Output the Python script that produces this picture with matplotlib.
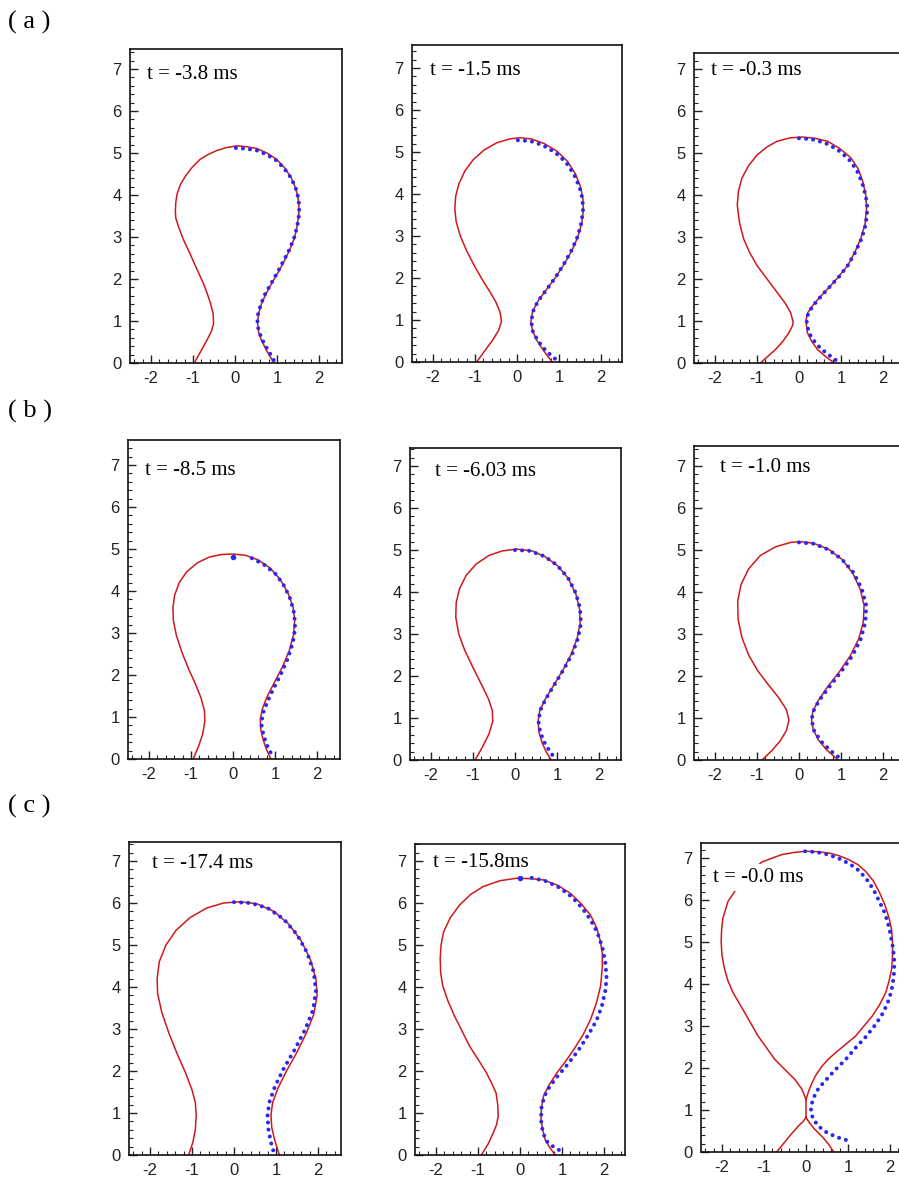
import numpy as np
import matplotlib.pyplot as plt
from matplotlib.ticker import MultipleLocator

plt.rcParams['axes.unicode_minus'] = False

W, H = 899, 1177
S = 42.0  # pixels per data unit

# ---- row (a) ----
a1_red_x = [-0.97, -0.82, -0.67, -0.56, -0.51, -0.52, -0.58, -0.66, -0.75, -0.91, -1.07, -1.22, -1.34, -1.41, -1.42,
            -1.41, -1.38, -1.30, -1.18, -1.02, -0.83, -0.63, -0.43, -0.20, 0.04, 0.28, 0.51, 0.76, 0.99, 1.18, 1.34,
            1.44, 1.50, 1.52, 1.52, 1.48, 1.42, 1.31, 1.18, 1.03, 0.87, 0.74, 0.63, 0.56, 0.54, 0.56, 0.63, 0.76, 0.91]
a1_red_y = [0.00, 0.27, 0.54, 0.76, 0.94, 1.17, 1.41, 1.65, 1.89, 2.24, 2.60, 2.92, 3.23, 3.45, 3.62,
            3.82, 4.02, 4.25, 4.45, 4.66, 4.85, 4.97, 5.06, 5.13, 5.17, 5.15, 5.11, 5.00, 4.85, 4.65, 4.41,
            4.17, 3.94, 3.75, 3.55, 3.27, 2.99, 2.71, 2.44, 2.16, 1.89, 1.65, 1.41, 1.17, 0.94, 0.74, 0.54, 0.28, 0.03]
a1_blue_x = [0.02, 0.28, 0.52, 0.76, 0.99, 1.18, 1.34, 1.45, 1.51, 1.53, 1.52, 1.48, 1.41, 1.30, 1.16, 1.01,
             0.86, 0.72, 0.62, 0.55, 0.53, 0.57, 0.65, 0.76, 0.86, 0.96]
a1_blue_y = [5.12, 5.10, 5.06, 4.96, 4.82, 4.62, 4.40, 4.15, 3.92, 3.70, 3.50, 3.25, 2.99, 2.71, 2.44, 2.16,
             1.89, 1.65, 1.41, 1.17, 0.94, 0.75, 0.55, 0.35, 0.18, 0.00]

a2_red_x = [-0.96, -0.78, -0.58, -0.44, -0.37, -0.40, -0.50, -0.65, -0.82, -1.02, -1.20, -1.35, -1.45, -1.48, -1.46,
            -1.38, -1.24, -1.04, -0.78, -0.48, -0.18, 0.07, 0.35, 0.65, 0.95, 1.20, 1.39, 1.51, 1.57, 1.58, 1.54,
            1.45, 1.31, 1.13, 0.92, 0.70, 0.50, 0.37, 0.33, 0.37, 0.47, 0.64, 0.84]
a2_red_y = [0.00, 0.25, 0.52, 0.75, 0.96, 1.18, 1.42, 1.68, 1.95, 2.30, 2.65, 3.00, 3.35, 3.65, 3.95,
            4.25, 4.55, 4.82, 5.05, 5.22, 5.31, 5.34, 5.31, 5.20, 5.02, 4.78, 4.48, 4.18, 3.88, 3.60, 3.30,
            2.98, 2.66, 2.34, 2.02, 1.72, 1.45, 1.20, 0.96, 0.74, 0.52, 0.26, 0.00]
a2_blue_x = [0.02, 0.32, 0.62, 0.92, 1.17, 1.36, 1.49, 1.56, 1.57, 1.53, 1.44, 1.30, 1.12, 0.92, 0.70, 0.50,
             0.38, 0.34, 0.38, 0.50, 0.66, 0.83, 1.00]
a2_blue_y = [5.28, 5.26, 5.16, 4.98, 4.75, 4.46, 4.16, 3.88, 3.60, 3.30, 2.98, 2.66, 2.34, 2.02, 1.72, 1.45,
             1.20, 0.96, 0.72, 0.50, 0.30, 0.14, 0.00]

a3_red_x = [-0.92, -0.74, -0.56, -0.38, -0.24, -0.15, -0.14, -0.20, -0.34, -0.52, -0.76, -1.00, -1.18, -1.32, -1.42,
            -1.47, -1.44, -1.36, -1.20, -1.00, -0.77, -0.52, -0.22, 0.08, 0.38, 0.68, 0.98, 1.24, 1.41, 1.52, 1.59,
            1.61, 1.57, 1.47, 1.33, 1.16, 0.93, 0.68, 0.48, 0.32, 0.21, 0.17, 0.18, 0.20, 0.30, 0.44, 0.64, 0.84]
a3_red_y = [0.00, 0.16, 0.32, 0.52, 0.72, 0.90, 0.98, 1.20, 1.44, 1.68, 2.00, 2.32, 2.64, 2.96, 3.36,
            3.76, 4.10, 4.40, 4.70, 4.95, 5.14, 5.28, 5.36, 5.38, 5.35, 5.28, 5.10, 4.88, 4.62, 4.32, 4.00,
            3.68, 3.30, 2.96, 2.64, 2.32, 2.04, 1.76, 1.55, 1.36, 1.20, 1.04, 0.86, 0.72, 0.52, 0.32, 0.15, 0.00]
a3_blue_x = [0.00, 0.30, 0.62, 0.92, 1.18, 1.37, 1.50, 1.59, 1.63, 1.59, 1.49, 1.34, 1.16, 0.94, 0.70, 0.50,
             0.33, 0.22, 0.18, 0.20, 0.28, 0.42, 0.60, 0.78, 0.97]
a3_blue_y = [5.35, 5.33, 5.24, 5.08, 4.86, 4.60, 4.30, 3.98, 3.68, 3.30, 2.96, 2.64, 2.32, 2.04, 1.78, 1.56,
             1.36, 1.18, 1.02, 0.86, 0.64, 0.44, 0.28, 0.14, 0.00]

# ---- row (b) ----
b1_red_x = [-0.95, -0.82, -0.72, -0.67, -0.68, -0.76, -0.90, -1.06, -1.22, -1.35, -1.42, -1.43, -1.39, -1.28, -1.10,
            -0.85, -0.56, -0.27, 0.00, 0.30, 0.60, 0.88, 1.12, 1.31, 1.43, 1.47, 1.44, 1.34, 1.18, 1.00, 0.82,
            0.70, 0.65, 0.66, 0.72, 0.80, 0.90]
b1_red_y = [0.00, 0.30, 0.60, 0.90, 1.15, 1.45, 1.80, 2.15, 2.55, 2.95, 3.30, 3.60, 3.90, 4.20, 4.46,
            4.67, 4.81, 4.87, 4.88, 4.85, 4.74, 4.55, 4.28, 3.95, 3.62, 3.30, 2.95, 2.58, 2.20, 1.85, 1.50,
            1.20, 0.95, 0.70, 0.45, 0.22, 0.00]
b1_blue_x = [0.45, 0.75, 1.02, 1.22, 1.37, 1.46, 1.48, 1.42, 1.30, 1.13, 0.95, 0.80, 0.70, 0.68, 0.73, 0.82, 0.95]
b1_blue_y = [4.78, 4.62, 4.40, 4.12, 3.80, 3.45, 3.10, 2.75, 2.38, 2.00, 1.65, 1.32, 1.05, 0.80, 0.55, 0.30, 0.05]
b1_blue_tip = (0.0, 4.82)

b2_red_x = [-0.95, -0.78, -0.62, -0.53, -0.54, -0.63, -0.80, -1.00, -1.20, -1.34, -1.41, -1.40, -1.32, -1.16, -0.92,
            -0.62, -0.30, 0.05, 0.40, 0.72, 1.02, 1.27, 1.45, 1.54, 1.55, 1.48, 1.34, 1.14, 0.92, 0.72, 0.59,
            0.55, 0.57, 0.65, 0.75, 0.86]
b2_red_y = [0.00, 0.30, 0.62, 0.92, 1.18, 1.45, 1.80, 2.20, 2.62, 3.00, 3.40, 3.75, 4.08, 4.40, 4.67,
            4.87, 4.98, 5.02, 4.98, 4.84, 4.62, 4.32, 3.95, 3.58, 3.25, 2.90, 2.52, 2.14, 1.78, 1.45, 1.18,
            0.92, 0.66, 0.40, 0.18, 0.00]
b2_blue_x = [0.00, 0.35, 0.70, 1.00, 1.26, 1.45, 1.55, 1.57, 1.50, 1.36, 1.15, 0.93, 0.73, 0.60, 0.56, 0.60,
             0.70, 0.83, 0.98]
b2_blue_y = [5.00, 4.98, 4.85, 4.64, 4.34, 3.97, 3.60, 3.25, 2.90, 2.52, 2.14, 1.78, 1.45, 1.18, 0.92, 0.66,
             0.42, 0.20, 0.00]

b3_red_x = [-0.88, -0.65, -0.45, -0.30, -0.24, -0.30, -0.48, -0.72, -0.98, -1.20, -1.36, -1.45, -1.46, -1.38, -1.20,
            -0.92, -0.55, -0.20, 0.02, 0.35, 0.70, 1.02, 1.28, 1.46, 1.55, 1.53, 1.42, 1.22, 0.96, 0.68, 0.46,
            0.33, 0.30, 0.34, 0.46, 0.66, 0.93]
b3_red_y = [0.00, 0.22, 0.45, 0.70, 0.95, 1.20, 1.48, 1.78, 2.12, 2.50, 2.92, 3.35, 3.78, 4.18, 4.55,
            4.87, 5.08, 5.18, 5.20, 5.16, 5.02, 4.78, 4.45, 4.06, 3.68, 3.28, 2.88, 2.48, 2.10, 1.74, 1.42,
            1.16, 0.95, 0.72, 0.48, 0.24, 0.00]
b3_blue_x = [0.00, 0.35, 0.70, 1.02, 1.30, 1.50, 1.60, 1.58, 1.47, 1.27, 1.00, 0.72, 0.48, 0.34, 0.30, 0.36,
             0.52, 0.75, 1.03]
b3_blue_y = [5.18, 5.15, 5.01, 4.78, 4.46, 4.06, 3.68, 3.28, 2.88, 2.48, 2.10, 1.74, 1.42, 1.16, 0.95, 0.70,
             0.45, 0.22, 0.00]

# ---- row (c) ----
c1_red_x = [-1.08, -0.98, -0.92, -0.90, -0.92, -1.00, -1.15, -1.35, -1.55, -1.72, -1.82, -1.83, -1.78, -1.62, -1.38,
            -1.05, -0.65, -0.25, 0.15, 0.55, 0.95, 1.30, 1.60, 1.82, 1.95, 1.98, 1.90, 1.72, 1.50, 1.25, 1.05,
            0.92, 0.88, 0.90, 0.97, 1.08]
c1_red_y = [0.00, 0.30, 0.60, 0.95, 1.25, 1.55, 1.95, 2.40, 2.90, 3.40, 3.85, 4.20, 4.60, 5.00, 5.35,
            5.65, 5.88, 6.00, 6.03, 5.98, 5.80, 5.50, 5.10, 4.65, 4.20, 3.80, 3.35, 2.90, 2.45, 2.00, 1.60,
            1.25, 0.95, 0.65, 0.35, 0.00]
c1_blue_x = [0.00, 0.40, 0.80, 1.18, 1.50, 1.74, 1.90, 1.95, 1.88, 1.70, 1.45, 1.18, 0.97, 0.84, 0.80, 0.82,
             0.88, 0.95]
c1_blue_y = [6.02, 6.00, 5.88, 5.62, 5.25, 4.82, 4.35, 3.90, 3.45, 3.00, 2.52, 2.05, 1.62, 1.25, 0.95, 0.60,
             0.30, 0.05]

c2_red_x = [-0.92, -0.76, -0.64, -0.56, -0.52, -0.53, -0.57, -0.68, -0.80, -1.00, -1.20, -1.38, -1.56, -1.72, -1.84,
            -1.89, -1.90, -1.88, -1.82, -1.66, -1.44, -1.18, -0.88, -0.48, -0.08, 0.24, 0.56, 0.90, 1.20, 1.46,
            1.68, 1.83, 1.92, 1.96, 1.96, 1.94, 1.92, 1.82, 1.68, 1.50, 1.28, 1.08, 0.88, 0.70, 0.56, 0.51, 0.50,
            0.54, 0.60, 0.72, 0.84]
c2_red_y = [0.00, 0.26, 0.52, 0.72, 0.92, 1.20, 1.48, 1.72, 1.96, 2.28, 2.59, 2.95, 3.31, 3.68, 4.03,
            4.35, 4.67, 5.00, 5.31, 5.65, 5.95, 6.20, 6.39, 6.53, 6.59, 6.58, 6.55, 6.42, 6.23, 5.98,
            5.71, 5.40, 5.07, 4.78, 4.51, 4.25, 4.03, 3.62, 3.23, 2.86, 2.51, 2.22, 1.96, 1.68, 1.40, 1.12, 0.84,
            0.60, 0.36, 0.16, 0.00]
c2_blue_x = [0.28, 0.62, 0.95, 1.24, 1.48, 1.68, 1.84, 1.96, 2.03, 2.06, 2.04, 1.95, 1.82, 1.62, 1.38, 1.12,
             0.88, 0.70, 0.58, 0.51, 0.50, 0.54, 0.62, 0.76, 0.96]
c2_blue_y = [6.60, 6.52, 6.36, 6.14, 5.88, 5.60, 5.30, 4.95, 4.60, 4.25, 3.95, 3.55, 3.20, 2.85, 2.48, 2.14,
             1.86, 1.62, 1.40, 1.12, 0.84, 0.56, 0.34, 0.22, 0.10]
c2_blue_tip = (0.0, 6.60)

# pinched-off shape: lower left branch, stem, upper loop; lower right branch drawn after the break
c3_red_x = [-0.70, -0.52, -0.34, -0.18, -0.06, 0.00, 0.00, -0.10, -0.26, -0.50, -0.74, -0.94, -1.14, -1.30, -1.46,
            -1.60, -1.74, -1.86, -1.94, -2.00, -2.02, -2.01, -1.98, -1.86, -1.62, -1.36, -1.06, -0.80, -0.58,
            -0.30, -0.02, 0.26, 0.54, 0.80, 1.02, 1.24, 1.42, 1.60, 1.74, 1.88, 1.98, 2.04, 2.06, 2.06, 2.04,
            1.98, 1.90, 1.76, 1.58, 1.38, 1.18, 0.94, 0.70, 0.52, 0.38, 0.24, 0.14, 0.06, 0.00,
            np.nan, 0.00, 0.08, 0.20, 0.40, 0.54, 0.66]
c3_red_y = [0.00, 0.22, 0.44, 0.62, 0.74, 0.82, 1.25, 1.50, 1.72, 1.96, 2.20, 2.48, 2.76, 3.04, 3.32,
            3.56, 3.80, 4.08, 4.36, 4.68, 5.00, 5.28, 5.56, 5.96, 6.32, 6.62, 6.90, 7.00, 7.08,
            7.13, 7.16, 7.15, 7.12, 7.05, 6.96, 6.84, 6.68, 6.46, 6.20, 5.88, 5.56, 5.28, 5.00, 4.68, 4.36,
            4.08, 3.80, 3.52, 3.24, 3.00, 2.76, 2.56, 2.36, 2.20, 2.04, 1.84, 1.64, 1.44, 1.25,
            np.nan, 0.82, 0.70, 0.55, 0.35, 0.18, 0.00]
c3_blue_x = [-0.02, 0.26, 0.54, 0.80, 1.04, 1.26, 1.44, 1.60, 1.74, 1.88, 1.98, 2.06, 2.10, 2.10, 2.06, 1.98,
             1.84, 1.66, 1.44, 1.18, 0.94, 0.70, 0.48, 0.30, 0.20, 0.14, 0.12, 0.16, 0.30, 0.50, 0.70, 0.86, 1.02]
c3_blue_y = [7.16, 7.14, 7.08, 6.98, 6.86, 6.70, 6.50, 6.26, 5.98, 5.68, 5.34, 4.92, 4.60, 4.30, 3.96, 3.64,
             3.32, 3.04, 2.76, 2.48, 2.20, 1.96, 1.72, 1.52, 1.33, 1.16, 1.01, 0.80, 0.61, 0.46, 0.37, 0.31, 0.27]

time_labels = ["t = -3.8 ms", "t = -1.5 ms", "t = -0.3 ms",
               "t = -8.5 ms", "t = -6.03 ms", "t = -1.0 ms",
               "t = -17.4 ms", "t = -15.8ms", "t = -0.0 ms"]
row_labels = ["( a )", "( b )", "( c )"]

# pixel boxes (left, top, right, bottom) for each panel
boxes = [(130, 49, 342, 363), (412, 45, 622, 362), (694, 53, 906, 363),
         (128, 440, 340, 759), (410, 448, 621, 760), (694, 446, 906, 760),
         (129, 842, 341, 1155), (415, 844, 625, 1155), (701, 843, 911, 1152)]
text_pos = [(-2.1, 6.86), (-2.07, 6.95), (-2.09, 6.96),
            (-2.1, 6.88), (-1.9, 6.86), (-1.88, 6.97),
            (-1.96, 6.93), (-2.08, 6.97), (-2.22, 6.54)]
row_label_y = [22, 411, 806]

reds = [(a1_red_x, a1_red_y), (a2_red_x, a2_red_y), (a3_red_x, a3_red_y),
        (b1_red_x, b1_red_y), (b2_red_x, b2_red_y), (b3_red_x, b3_red_y),
        (c1_red_x, c1_red_y), (c2_red_x, c2_red_y), (c3_red_x, c3_red_y)]
blues = [(a1_blue_x, a1_blue_y), (a2_blue_x, a2_blue_y), (a3_blue_x, a3_blue_y),
         (b1_blue_x, b1_blue_y), (b2_blue_x, b2_blue_y), (b3_blue_x, b3_blue_y),
         (c1_blue_x, c1_blue_y), (c2_blue_x, c2_blue_y), (c3_blue_x, c3_blue_y)]
blue_tips = {3: b1_blue_tip, 7: c2_blue_tip}

RED = '#d0181c'
BLUE = '#2828f0'

fig = plt.figure(figsize=(W / 100, H / 100), dpi=100)

for i, (l, t, r, b) in enumerate(boxes):
    ax = fig.add_axes([l / W, 1 - b / H, (r - l) / W, (b - t) / H])
    ax.set_xlim(-2.5, -2.5 + (r - l) / S)
    ax.set_ylim(0, (b - t) / S)

    rx, ry = reds[i]
    ax.plot(rx, ry, color=RED, lw=1.1, zorder=2)
    bx, by = blues[i]
    ax.plot(bx, by, color=BLUE, lw=2.9, ls=(0, (0.01, 1.75)), dash_capstyle='round', zorder=3)
    if i in blue_tips:
        ax.plot(*blue_tips[i], 'o', color=BLUE, ms=4, mew=0, zorder=3)

    ax.text(*text_pos[i], time_labels[i], family='Liberation Serif', fontsize=15,
            va='center', ha='left', zorder=4,
            bbox=dict(facecolor='white', edgecolor='none', pad=3))

    ax.xaxis.set_major_locator(MultipleLocator(1))
    ax.xaxis.set_minor_locator(MultipleLocator(0.2))
    ax.yaxis.set_major_locator(MultipleLocator(1))
    ax.yaxis.set_minor_locator(MultipleLocator(0.2))
    ax.tick_params(which='both', direction='in', top=False, right=False, colors='#222222')
    ax.tick_params(which='major', length=6, width=1.0, labelsize=12, pad=6)
    ax.tick_params(which='minor', length=3, width=0.8)
    for lab in ax.get_xticklabels() + ax.get_yticklabels():
        lab.set_family('Liberation Sans')
    for sp in ax.spines.values():
        sp.set_linewidth(1.2)
        sp.set_color('#111111')

for k, lab in enumerate(row_labels):
    fig.text(8 / W, 1 - row_label_y[k] / H, lab, family='Liberation Serif', fontsize=19,
             va='center', ha='left')

fig.savefig('out.png', dpi=100)
